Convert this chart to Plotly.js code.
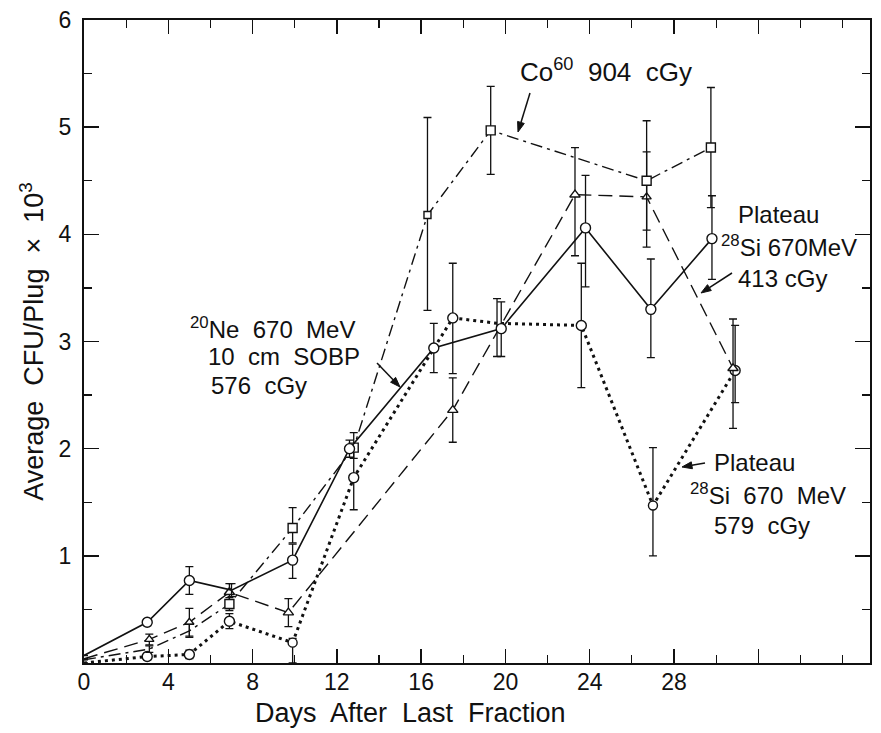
<!DOCTYPE html>
<html>
<head>
<meta charset="utf-8">
<script src="https://cdn.plot.ly/plotly-3.0.1.min.js"></script>
<style>html,body{margin:0;padding:0;background:#fff;}#chart{width:881px;height:733px;}</style>
</head>
<body>
<div id="chart"></div>
<script>
// ---- data ----
const neDays   = [0, 3.0, 5.0, 7.0, 9.9, 12.6, 16.6, 19.8, 23.8, 26.9, 29.8];
const neCFU    = [0.07, 0.38, 0.77, 0.68, 0.96, 2.0, 2.94, 3.12, 4.06, 3.3, 3.96];
const neErrUp  = [0, 0.03, 0.13, 0.06, 0.15, 0.08, 0.23, 0.25, 0.49, 0.47, 0.4];
const neErrDn  = [0, 0.03, 0.13, 0.06, 0.17, 0.08, 0.23, 0.26, 0.55, 0.45, 0.38];
const neMark   = [0, 10, 10, 0, 10, 10, 10, 10, 10, 10, 10];

const si413Days  = [0, 3.1, 5.0, 6.9, 9.7, 17.5, 23.3, 26.7, 30.8];
const si413CFU   = [0.04, 0.22, 0.38, 0.66, 0.47, 2.36, 4.37, 4.35, 2.75];
const si413ErrUp = [0, 0.05, 0.13, 0.08, 0.13, 0.3, 0.44, 0.42, 0.46];
const si413ErrDn = [0, 0.05, 0.13, 0.08, 0.13, 0.3, 0.57, 0.31, 0.56];
const si413Mark  = [0, 8, 8, 9, 9, 9, 9, 8, 9];

const coDays   = [0, 3.1, 5.0, 6.9, 9.9, 12.8, 16.3, 19.3, 26.7, 29.75];
const coCFU    = [0.03, 0.13, 0.3, 0.55, 1.26, 2.01, 4.18, 4.97, 4.5, 4.81];
const coErrUp  = [0, 0.03, 0.06, 0.06, 0.19, 0.14, 0.91, 0.41, 0.56, 0.56];
const coErrDn  = [0, 0.03, 0.06, 0.06, 0.14, 0.1, 0.89, 0.41, 0.62, 0.56];
const coMark   = [0, 0, 0, 9, 9, 9, 7, 9, 9, 9];

const si579Days  = [0, 3.0, 5.0, 6.9, 9.9, 12.8, 17.5, 19.6, 23.6, 27.0, 30.9];
const si579CFU   = [0, 0.06, 0.08, 0.39, 0.19, 1.73, 3.22, 3.17, 3.15, 1.47, 2.73];
const si579ErrUp = [0, 0.03, 0.04, 0.07, 0.04, 0.3, 0.51, 0.23, 0.58, 0.54, 0.42];
const si579ErrDn = [0, 0.03, 0.04, 0.07, 0.19, 0.3, 0.52, 0.31, 0.58, 0.47, 0.3];
const si579Mark  = [0, 10, 10, 10, 9, 10, 10, 0, 10, 9, 10];

const xTickVals  = [0, 4, 8, 12, 16, 20, 24, 28];
const xTickText  = ['0', '4', '8', '12', '16', '20', '24', '28'];
const xExtraTick = [32];
const yTickVals  = [1, 2, 3, 4, 5, 6];
const yTickText  = ['1', '2', '3', '4', '5', '6'];

// ---- layout helpers ----
const L = 84, R = 11, T = 20, B = 70, W = 881, H = 733;
const XMAX = 37.3, YMAX = 6;
const pxPaper = p => (p - L) / (W - L - R);
const pyPaper = p => (H - B - p) / (H - T - B);
const FONT = 'Liberation Sans, Arial, Helvetica, sans-serif';

function errBar(up, dn) {
  return {type: 'data', symmetric: false, array: up, arrayminus: dn,
          color: '#111', thickness: 1.3, width: 4};
}
function trace(x, y, up, dn, sizes, symbol, dash, lw) {
  return {
    x: x, y: y, type: 'scatter', mode: 'lines+markers',
    line: {color: '#111', width: lw, dash: dash},
    marker: {symbol: symbol, size: sizes, color: '#ffffff', opacity: 1,
             line: {color: '#111', width: 1.4}},
    error_y: errBar(up, dn), showlegend: false, hoverinfo: 'skip'
  };
}

const data = [
  trace(si579Days, si579CFU, si579ErrUp, si579ErrDn, si579Mark, 'circle', '3px,4px', 3),
  trace(si413Days, si413CFU, si413ErrUp, si413ErrDn, si413Mark, 'triangle-up', '14px,7px', 1.4),
  trace(coDays, coCFU, coErrUp, coErrDn, coMark, 'square', '12px,5px,3px,5px', 1.4),
  trace(neDays, neCFU, neErrUp, neErrDn, neMark, 'circle', 'solid', 1.6),
  // invisible helper trace on a second x axis that only carries the tick at 32
  {x: xExtraTick, y: [0], xaxis: 'x2', type: 'scatter', mode: 'markers',
   marker: {size: 0, opacity: 0}, showlegend: false, hoverinfo: 'skip'}
];

function label(text, pxX, pxY, anchor, size) {
  return {xref: 'paper', yref: 'paper', x: pxPaper(pxX), y: pyPaper(pxY), text: text,
          showarrow: false, xanchor: anchor, yanchor: 'middle',
          font: {family: FONT, size: size, color: '#111'}};
}
// arrow drawn with shapes: line + filled head
function arrowShapes(tipX, tipY, tailX, tailY) {
  const dx = tipX - tailX, dy = tipY - tailY;
  const len = Math.hypot(dx, dy), ux = dx / len, uy = dy / len;
  const hl = 10, hw = 3.5;
  const bx = tipX - ux * hl, by = tipY - uy * hl;
  const p1x = bx - uy * hw, p1y = by + ux * hw;
  const p2x = bx + uy * hw, p2y = by - ux * hw;
  const P = (x, y) => pxPaper(x).toFixed(5) + ',' + pyPaper(y).toFixed(5);
  return [
    {type: 'line', xref: 'paper', yref: 'paper',
     x0: pxPaper(tailX), y0: pyPaper(tailY), x1: pxPaper(bx), y1: pyPaper(by),
     line: {color: '#111', width: 1.5}},
    {type: 'path', xref: 'paper', yref: 'paper',
     path: 'M' + P(tipX, tipY) + ' L' + P(p1x, p1y) + ' L' + P(p2x, p2y) + ' Z',
     fillcolor: '#111', line: {color: '#111', width: 1}}
  ];
}

const annotations = [
  label('Co<sup>60</sup>  904  cGy', 606, 71, 'center', 26),
  label('Plateau', 736, 215, 'left', 24),
  label('<sup>28</sup>Si 670MeV', 719, 246, 'left', 24),
  label('413 cGy', 736, 278, 'left', 24),
  label('<sup>20</sup>Ne  670  MeV', 357, 328, 'right', 24),
  label('10  cm  SOBP', 362, 356, 'right', 24),
  label('576  cGy', 209, 385, 'left', 24),
  label('Plateau', 712, 462, 'left', 24),
  label('<sup>28</sup>Si  670  MeV', 688, 494, 'left', 24),
  label('579  cGy', 712, 525, 'left', 24),
  // x-axis title (centred where the original puts it)
  label('Days  After  Last  Fraction', 410, 713, 'center', 27)
];

const shapes = [].concat(
  arrowShapes(518, 132, 530, 93),
  arrowShapes(701, 293, 732, 273),
  arrowShapes(400, 387, 377, 363),
  arrowShapes(682, 467, 705, 463)
);

const layout = {
  width: W, height: H,
  margin: {l: L, r: R, t: T, b: B, pad: 0},
  paper_bgcolor: '#fff', plot_bgcolor: '#fff',
  font: {family: FONT, color: '#111'},
  xaxis: {
    range: [0, XMAX], showgrid: false, zeroline: false,
    showline: true, linecolor: '#111', linewidth: 2, mirror: 'ticks',
    ticks: 'inside', ticklen: 14, tickwidth: 1.5, tickcolor: '#111',
    tickvals: xTickVals, ticktext: xTickText,
    tickfont: {family: FONT, size: 23, color: '#111'},
    ticklabelstandoff: -3,
    minor: {ticks: 'inside', ticklen: 8, dtick: 2, tickwidth: 1.2, tickcolor: '#111', showgrid: false}
  },
  xaxis2: {
    overlaying: 'x', matches: 'x', anchor: 'y', side: 'bottom',
    range: [0, XMAX], showgrid: false, zeroline: false, showline: false,
    showticklabels: false, ticks: 'inside', ticklen: 14, tickwidth: 1.5, tickcolor: '#111',
    tickvals: xExtraTick, mirror: 'ticks'
  },
  yaxis: {
    range: [0, YMAX], showgrid: false, zeroline: false,
    showline: true, linecolor: '#111', linewidth: 2, mirror: 'ticks',
    ticks: 'inside', ticklen: 15, tickwidth: 1.5, tickcolor: '#111',
    tickvals: yTickVals, ticktext: yTickText,
    tickfont: {family: FONT, size: 23, color: '#111'},
    ticklabelstandoff: 6,
    minor: {ticks: 'inside', ticklen: 8, dtick: 0.5, tickwidth: 1.2, tickcolor: '#111', showgrid: false},
    title: {text: 'Average  CFU/Plug  \u00D7  10<sup>3</sup>', font: {family: FONT, size: 27, color: '#111'}, standoff: 7}
  },
  annotations: annotations,
  shapes: shapes
};

Plotly.newPlot('chart', data, layout, {staticPlot: true, displayModeBar: false});
</script>
</body>
</html>
